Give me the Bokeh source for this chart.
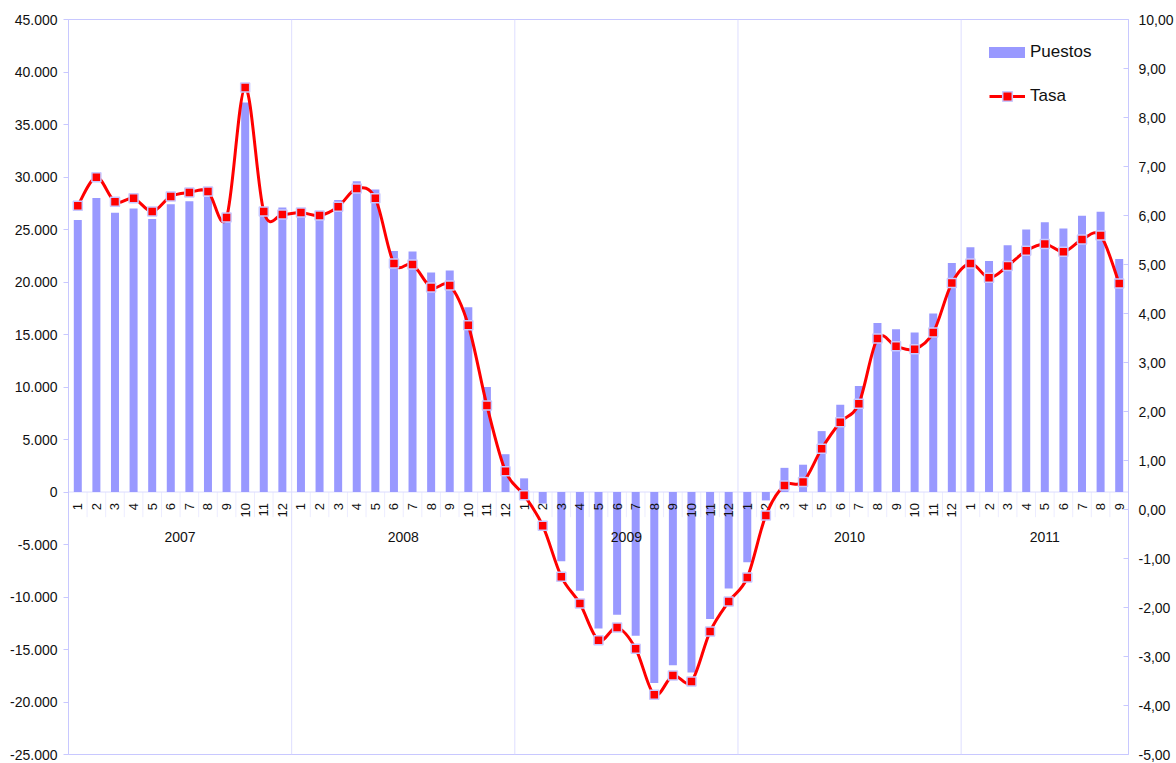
import numpy as np
from bokeh.plotting import figure
from bokeh.models import (Range1d, LinearAxis, FixedTicker, Span, Legend,
                          LegendItem)
from bokeh.core.properties import value
from bokeh.embed import file_html
from bokeh.resources import INLINE

years = ["2007", "2008", "2009", "2010", "2011"]
months_per_year = [12, 12, 12, 12, 9]

puestos = [
    25900, 28000, 26600, 27000, 26000, 27400, 27700, 28100, 25900, 37100, 27000, 27100,
    26900, 26400, 27800, 29600, 28800, 22950, 22900, 20900, 21100, 17600, 10000, 3600,
    1300, -1100, -6600, -9400, -13000, -11700, -13700, -18200, -16500, -17200, -12100, -9200,
    -6700, -800, 2300, 2600, 5800, 8300, 10100, 16100, 15500, 15200, 17000, 21800,
    23300, 22000, 23500, 25000, 25700, 25100, 26300, 26700, 22200,
]
tasa = [
    6.20, 6.78, 6.28, 6.35, 6.08, 6.39, 6.47, 6.49, 5.96, 8.61, 6.08, 6.02,
    6.06, 6.00, 6.18, 6.55, 6.35, 5.02, 5.00, 4.53, 4.57, 3.76, 2.12, 0.78,
    0.29, -0.33, -1.37, -1.92, -2.67, -2.41, -2.84, -3.78, -3.39, -3.51, -2.49, -1.88,
    -1.39, -0.12, 0.49, 0.56, 1.24, 1.78, 2.16, 3.49, 3.33, 3.27, 3.61, 4.62,
    5.02, 4.73, 4.97, 5.28, 5.42, 5.26, 5.51, 5.59, 4.61,
]
left_ticks = list(range(-25000, 45001, 5000))
right_ticks = list(range(-5, 11))

month_labels = [str(m) for n in months_per_year for m in range(1, n + 1)]
n = len(month_labels)
xs = np.arange(n) + 0.5

FONT = "Liberation Sans"
LAV = "#c8c8ff"

p = figure(frame_width=1060, frame_height=735, output_backend="svg",
           toolbar_location=None, x_axis_location=None,
           x_range=Range1d(0, n), y_range=Range1d(-25000, 45000),
           min_border_left=68, min_border_right=45, min_border_top=19,
           min_border_bottom=8)
p.extra_y_ranges = {"right": Range1d(-5, 10)}
p.outline_line_color = LAV
for g in p.grid:
    g.visible = False
p.background_fill_color = "white"
p.border_fill_color = "white"

# left axis
ya = p.yaxis[0]
ya.ticker = FixedTicker(ticks=left_ticks)
ya.major_label_overrides = {t: ("{:,}".format(t).replace(",", ".")) for t in left_ticks}
ya.minor_tick_line_color = None
ya.axis_line_color = LAV
ya.major_tick_line_color = LAV
ya.major_tick_in = 0
ya.major_tick_out = 5
ya.major_label_standoff = 6
ya.major_label_text_font = FONT
ya.major_label_text_font_size = "14px"
ya.major_label_text_color = "#111111"

ra = LinearAxis(y_range_name="right", ticker=FixedTicker(ticks=right_ticks))
ra.major_label_overrides = {t: ("%.2f" % t).replace(".", ",") for t in right_ticks}
ra.minor_tick_line_color = None
ra.axis_line_color = LAV
ra.major_tick_line_color = LAV
ra.major_tick_in = 5
ra.major_tick_out = 0
ra.major_label_standoff = 10
ra.major_label_text_font = FONT
ra.major_label_text_font_size = "14px"
ra.major_label_text_color = "#111111"
p.add_layout(ra, "right")

# year separators and zero line
bounds = np.cumsum(months_per_year)[:-1]
for b in bounds:
    p.add_layout(Span(location=float(b), dimension="height", line_color="#dedeff",
                      line_width=1, level="underlay"))
p.add_layout(Span(location=0, dimension="width", line_color="#dcdcff",
                  line_width=1, level="underlay"))

# month separators in label band
bset = set(bounds.tolist())
sep_x = [float(i) for i in range(1, n) if i not in bset]
p.segment(x0=sep_x, y0=[0] * len(sep_x), x1=sep_x, y1=[-2400] * len(sep_x),
          line_color="#ececff", line_width=1, level="underlay")

# bars
bars = p.vbar(x=xs, top=puestos, bottom=0, width=0.43, fill_color="#9999ff",
              line_color=None)

# month labels
p.text(x=xs, y=[0] * n, text=month_labels, angle=np.pi / 2, text_align="right",
       text_baseline="middle", y_offset=11, text_font=value(FONT),
       text_font_size="13px", text_color="#111111")
# year labels
starts = np.concatenate([[0], np.cumsum(months_per_year)[:-1]])
centers = starts + np.array(months_per_year) / 2.0
p.text(x=centers, y=[0] * len(years), text=years, text_align="center",
       text_baseline="middle", y_offset=45, text_font=value(FONT),
       text_font_size="14px", text_color="#111111")

# smoothed line via bezier segments (Catmull-Rom control points)
t = np.array(tasa)
xe = np.concatenate([[xs[0]], xs, [xs[-1]]])
te = np.concatenate([[t[0]], t, [t[-1]]])
x0 = xe[1:-2]; y0 = te[1:-2]
x1 = xe[2:-1]; y1 = te[2:-1]
cx0 = x0 + (xe[2:-1] - xe[0:-3]) / 6.0
cy0 = y0 + (te[2:-1] - te[0:-3]) / 6.0
cx1 = x1 - (xe[3:] - xe[1:-2]) / 6.0
cy1 = y1 - (te[3:] - te[1:-2]) / 6.0
bez = p.bezier(x0=x0, y0=y0, x1=x1, y1=y1, cx0=cx0, cy0=cy0, cx1=cx1, cy1=cy1,
               y_range_name="right", line_color="#ff0000", line_width=3)
sc = p.scatter(x=xs, y=tasa, marker="square", size=9, fill_color="#ff0000",
               line_color=LAV, line_width=1.5, y_range_name="right")

leg1 = Legend(items=[LegendItem(label="Puestos", renderers=[bars])],
              location=(916, 692), border_line_color=None,
              background_fill_alpha=0, padding=0, margin=0, glyph_width=45,
              glyph_height=14, label_standoff=1, label_text_font=FONT,
              label_text_font_size="17px", label_text_color="#111111")
leg2 = Legend(items=[LegendItem(label="Tasa", renderers=[bez, sc])],
              location=(921, 646), border_line_color=None,
              background_fill_alpha=0, padding=0, margin=0, glyph_width=36,
              glyph_height=24, label_standoff=5, label_text_font=FONT,
              label_text_font_size="17px", label_text_color="#111111")
p.add_layout(leg1)
p.add_layout(leg2)

open("out.html", "w").write(file_html(p, INLINE))
